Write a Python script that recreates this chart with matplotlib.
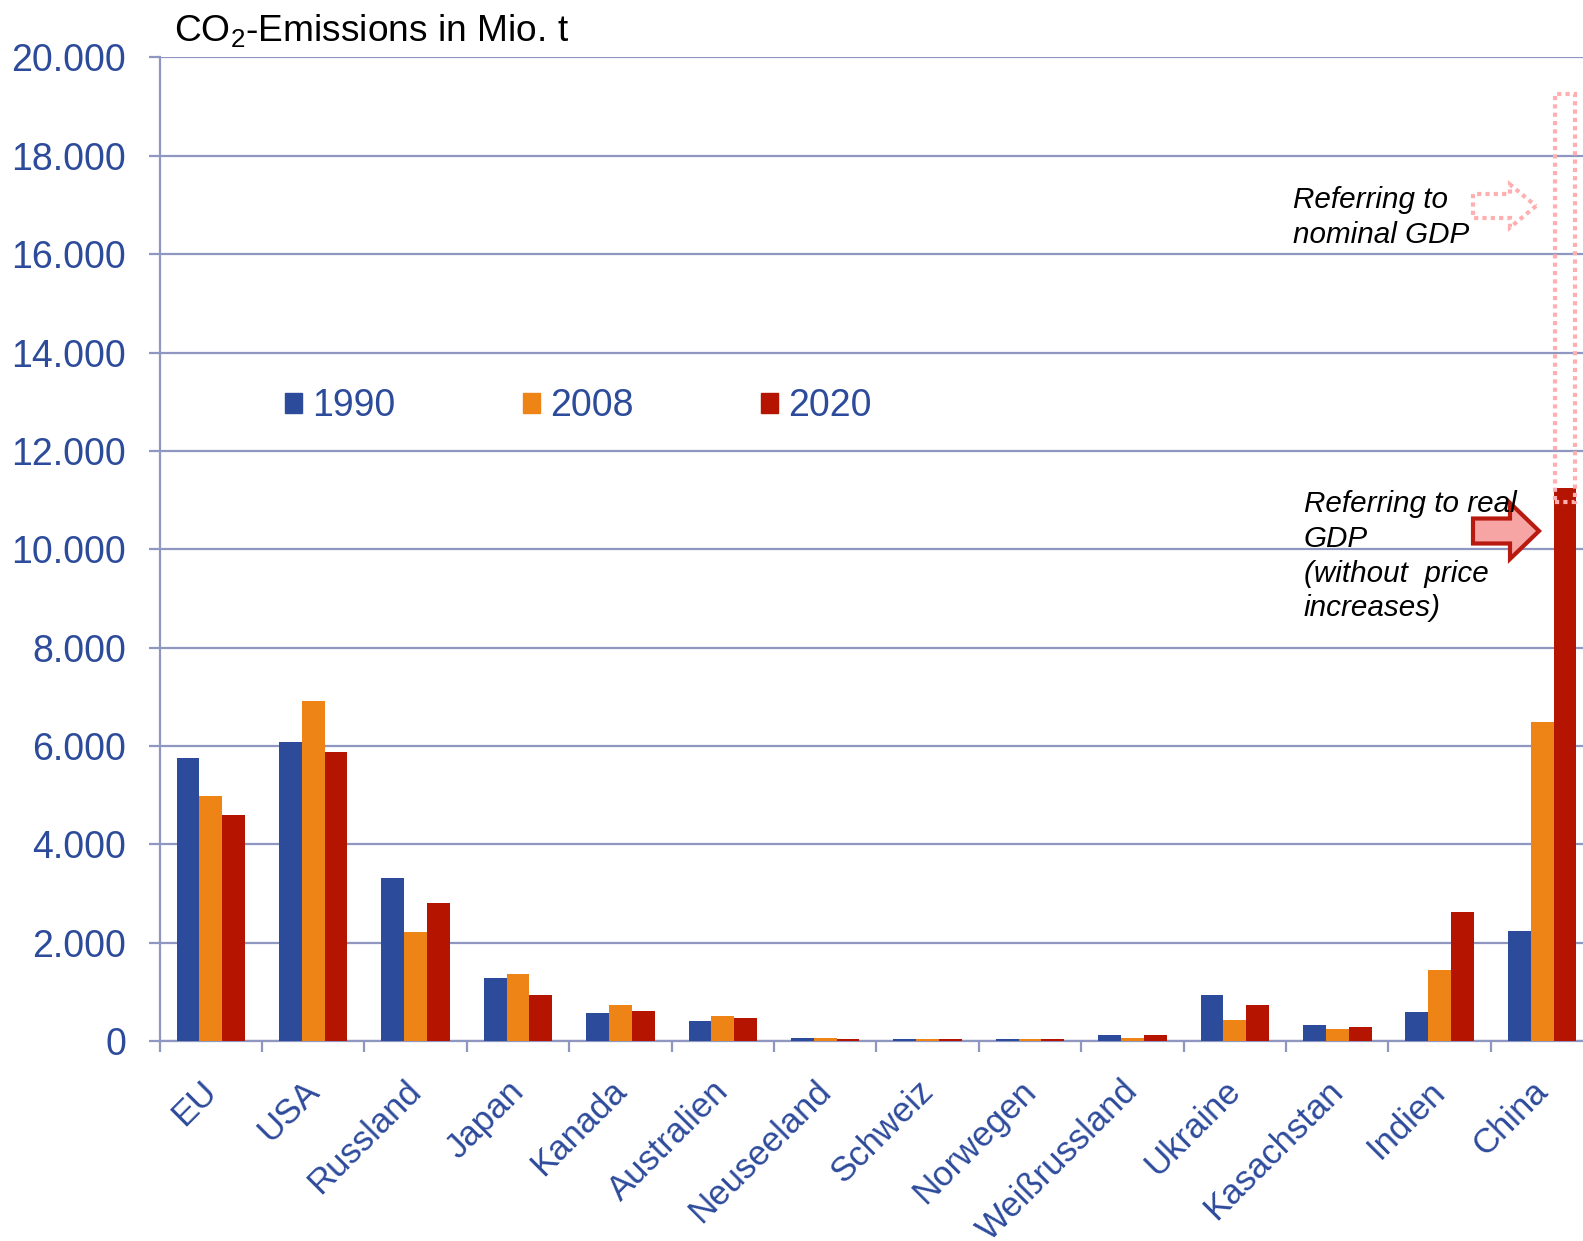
"""
CO2 emissions by country / region, 1990 - 2008 - 2020,
with the China 2020 value shown against real and nominal GDP.
"""

import matplotlib
matplotlib.use("Agg")
import matplotlib.pyplot as plt
import matplotlib.transforms as mtransforms
import numpy as np
from matplotlib.patches import FancyArrow, Patch
from matplotlib.ticker import FuncFormatter, MultipleLocator

plt.rcParams['font.family'] = ['Liberation Sans', 'DejaVu Sans']
plt.rcParams['mathtext.fontset'] = 'custom'
plt.rcParams['mathtext.rm'] = 'Liberation Sans'

# emissions in Mio. t
countries = ["EU", "USA", "Russland", "Japan", "Kanada", "Australien",
             "Neuseeland", "Schweiz", "Norwegen", "Weißrussland",
             "Ukraine", "Kasachstan", "Indien", "China"]
years = ["1990", "2008", "2020"]
em_1990 = [5750, 6080, 3310, 1270, 575, 410, 55, 45, 40, 120, 925, 330, 585, 2230]
em_2008 = [4990, 6920, 2220, 1360, 740, 515, 70, 45, 45, 70, 430, 245, 1445, 6490]
em_2020 = [4600, 5870, 2810, 940, 600, 470, 45, 35, 35, 115, 740, 290, 2615, 11250]

# China 2020 referring to nominal GDP (dotted outline above the real value)
china_nominal = 19250
china_nominal_base = 10950

BLUE = "#2D4B9B"
ORANGE = "#EE8316"
RED = "#B41400"
GRID = "#8F96C0"
colors = [BLUE, ORANGE, RED]

W, H = 1583, 1241


def fx(px):
    return px / W


def fy(py):
    return 1 - py / H


fig = plt.figure(figsize=(W / 100, H / 100), dpi=100)
ax = fig.add_axes([0.1008, 0.1612, 0.9057, 0.7925])

x = np.arange(len(countries))
width = 0.223
for i, (vals, c) in enumerate(zip([em_1990, em_2008, em_2020], colors)):
    ax.bar(x + (i - 1) * width, vals, width=width, color=c, zorder=3)

# nominal GDP outline for China
ax.bar(x[-1] + width, china_nominal - china_nominal_base, bottom=china_nominal_base,
       width=0.19, fill=False, edgecolor="#FFAFAF", linestyle=(0, (1, 1)),
       linewidth=3, zorder=4, clip_on=False)

ax.set_xlim(-0.5, len(countries) - 0.5)
ax.set_ylim(0, 20000)

ax.yaxis.set_major_locator(MultipleLocator(2000))
ax.yaxis.set_major_formatter(FuncFormatter(lambda v, p: f"{v:,.0f}".replace(",", ".")))
ax.grid(axis="y", color=GRID, linewidth=1.6, zorder=0)
ax.set_axisbelow(True)

ax.set_xticks(x)
ax.set_xticklabels(countries, rotation=45, ha="right", va="top",
                   rotation_mode="anchor")
ax.set_xticks(np.arange(len(countries) + 1) - 0.5, minor=True)
ax.tick_params(axis="x", which="major", length=0, pad=24,
               labelsize=25, labelcolor=BLUE)
ax.tick_params(axis="x", which="minor", length=8, width=1.6, color=GRID)
ax.tick_params(axis="y", length=8, width=1.6, color=GRID, pad=16,
               labelsize=27, labelcolor=BLUE)

# nudge the rotated country names a bit to the left
shift = mtransforms.ScaledTranslation(-0.11, 0, fig.dpi_scale_trans)
for lab in ax.get_xticklabels():
    lab.set_transform(lab.get_transform() + shift)

for s in ["top", "right"]:
    ax.spines[s].set_visible(False)
for s in ["left", "bottom"]:
    ax.spines[s].set_color(GRID)
    ax.spines[s].set_linewidth(1.6)

# title above the axis
fig.text(fx(174), fy(42), r"CO$_\mathregular{2}$-Emissions in Mio. t",
         fontsize=26.7, color="black", va="baseline", ha="left")

# legend
handles = [Patch(color=c, label=y) for c, y in zip(colors, years)]
ax.legend(handles=handles, ncol=3, loc="center left",
          bbox_to_anchor=(fx(285), fy(406)), bbox_transform=fig.transFigure,
          frameon=False, fontsize=27, labelcolor=BLUE, borderpad=0,
          borderaxespad=0, handlelength=0.45, handleheight=0.45,
          handletextpad=0.27, columnspacing=3.4)

# annotations
fig.text(fx(1293), fy(186), "Referring to\nnominal GDP", fontsize=21.3,
         style="italic", va="top", ha="left", linespacing=1.31)
fig.text(fx(1304), fy(490), "Referring to real\nGDP\n(without  price\nincreases)",
         fontsize=21.3, style="italic", va="top", ha="left",
         linespacing=1.31)

arrow_real = FancyArrow(fx(1473), fy(531), fx(1539) - fx(1473), 0,
                        width=25 / H, head_width=56 / H, head_length=29 / W,
                        length_includes_head=True, transform=fig.transFigure,
                        facecolor="#F7A4A4", edgecolor="#B81A10", linewidth=3)
fig.patches.append(arrow_real)

arrow_nom = FancyArrow(fx(1473), fy(206), fx(1536) - fx(1473), 0,
                       width=24 / H, head_width=43 / H, head_length=26 / W,
                       length_includes_head=True, transform=fig.transFigure,
                       fill=False, edgecolor="#FFAFAF", linewidth=3,
                       linestyle=(0, (1, 1)))
fig.patches.append(arrow_nom)

fig.savefig("out.png", dpi=100)
